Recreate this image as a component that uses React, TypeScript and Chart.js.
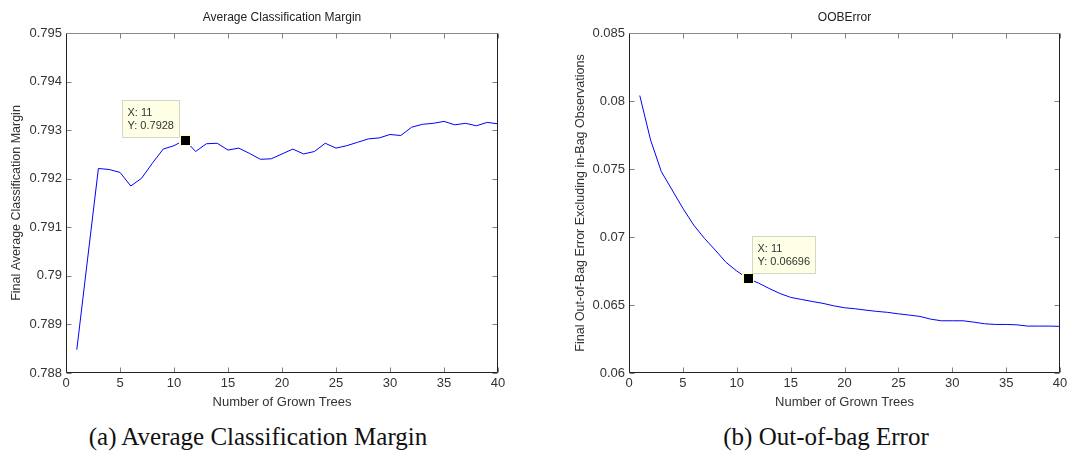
import React, { useEffect, useRef } from "react";
import { Chart, registerables } from "chart.js";

Chart.register(...registerables);

// ---- data ----
const trees = [1, 2, 3, 4, 5, 6, 7, 8, 9, 10, 11, 12, 13, 14, 15, 16, 17, 18, 19, 20,
  21, 22, 23, 24, 25, 26, 27, 28, 29, 30, 31, 32, 33, 34, 35, 36, 37, 38, 39, 40];

const marginValues = [0.78848, 0.79035, 0.79221, 0.79219, 0.79213, 0.79185, 0.79201, 0.79232,
  0.79261, 0.79268, 0.7928, 0.79256, 0.79272, 0.79273, 0.79259, 0.79263, 0.79252, 0.7924,
  0.79241, 0.79251, 0.79261, 0.79251, 0.79256, 0.79273, 0.79263, 0.79268, 0.79275, 0.79282,
  0.79284, 0.79291, 0.79289, 0.79306, 0.79312, 0.79314, 0.79318, 0.79311, 0.79314, 0.79309,
  0.79316, 0.79313];

const oobValues = [0.0804, 0.07714, 0.07481, 0.07346, 0.07211, 0.07088, 0.0699, 0.06904,
  0.06814, 0.0675, 0.06696, 0.06662, 0.06622, 0.06585, 0.06556, 0.06541, 0.06526, 0.06512,
  0.06494, 0.0648, 0.06472, 0.06462, 0.06453, 0.06446, 0.06435, 0.06426, 0.06416, 0.06396,
  0.06384, 0.06384, 0.06384, 0.06374, 0.06362, 0.06357, 0.06357, 0.06354, 0.06345, 0.06345,
  0.06345, 0.06343];

const xTicks = [0, 5, 10, 15, 20, 25, 30, 35, 40];
const marginTicks = [0.788, 0.789, 0.79, 0.791, 0.792, 0.793, 0.794, 0.795];
const oobTicks = [0.06, 0.065, 0.07, 0.075, 0.08, 0.085];

const tipIndex = 10; // tree 11

const FONT = "'Liberation Sans', Arial, Helvetica, sans-serif";
const TEXT = "#333333";

type PanelCfg = {
  title: string;
  yTitle: string;
  values: number[];
  yTicks: number[];
  tipDigits: string;
  tipDx: number;
  tipDy: number;
  yAxisWidth: number;
  yTitlePad: number;
  padRight: number;
};

const fmt = (v: number) => String(parseFloat(v.toFixed(4)));

const matlabPlugin = {
  id: "matlabBox",
  afterDatasetsDraw(chart: any, _args: any, opts: any) {
    const { ctx, chartArea: a, scales } = chart;
    const xs = scales.x;
    const ys = scales.y;
    ctx.save();
    // inward ticks
    ctx.strokeStyle = "#7f7f7f";
    ctx.lineWidth = 1;
    const L = Math.round(a.left) + 0.5;
    const R = Math.round(a.right) - 0.5;
    const T = Math.round(a.top) + 0.5;
    const B = Math.round(a.bottom) - 0.5;
    ctx.beginPath();
    for (const v of xTicks) {
      const px = Math.round(xs.getPixelForValue(v)) + 0.5;
      ctx.moveTo(px, B);
      ctx.lineTo(px, B - 5);
      ctx.moveTo(px, T);
      ctx.lineTo(px, T + 5);
    }
    for (const v of opts.yTicks) {
      const py = Math.round(ys.getPixelForValue(v)) + 0.5;
      ctx.moveTo(L, py);
      ctx.lineTo(L + 5, py);
      ctx.moveTo(R, py);
      ctx.lineTo(R - 5, py);
    }
    ctx.stroke();
    // box
    ctx.strokeStyle = "#222222";
    ctx.beginPath();
    ctx.moveTo(L, T);
    ctx.lineTo(L, B);
    ctx.lineTo(R, B);
    ctx.lineTo(R, T);
    ctx.stroke();
    ctx.strokeStyle = "#8a8a8a";
    ctx.beginPath();
    ctx.moveTo(L, T);
    ctx.lineTo(R, T);
    ctx.stroke();

    // title
    ctx.fillStyle = "#222222";
    ctx.font = `12px ${FONT}`;
    ctx.textAlign = "center";
    ctx.textBaseline = "middle";
    ctx.fillText(opts.title, (a.left + a.right) / 2, 18);

    // data tip marker
    const mx = xs.getPixelForValue(trees[tipIndex]);
    const my = ys.getPixelForValue(opts.values[tipIndex]);
    ctx.fillStyle = "#ffffd0";
    ctx.fillRect(Math.round(mx) - 6, Math.round(my) - 6, 12, 12);
    ctx.fillStyle = "#000000";
    ctx.fillRect(Math.round(mx) - 4, Math.round(my) - 4, 9, 9);

    // data tip box
    ctx.font = `11px ${FONT}`;
    const l1 = "X: " + trees[tipIndex];
    const l2 = "Y: " + opts.tipDigits;
    const w = Math.ceil(Math.max(ctx.measureText(l1).width, ctx.measureText(l2).width)) + 10;
    const bx = Math.round(mx + opts.tipDx) + 0.5;
    const by = Math.round(my + opts.tipDy) + 0.5;
    const bh = 37;
    ctx.fillStyle = "#ffffe6";
    ctx.fillRect(bx, by, w, bh);
    ctx.strokeStyle = "#d6d6c8";
    ctx.strokeRect(bx, by, w, bh);
    ctx.fillStyle = TEXT;
    ctx.textAlign = "left";
    ctx.textBaseline = "middle";
    ctx.fillText(l1, bx + 5, by + 12);
    ctx.fillText(l2, bx + 5, by + 25);
    ctx.restore();
  },
};

function Panel({ cfg, left, width }: { cfg: PanelCfg; left: number; width: number }) {
  const ref = useRef<HTMLCanvasElement | null>(null);
  useEffect(() => {
    if (!ref.current) return;
    const chart = new Chart(ref.current, {
      type: "line",
      data: {
        datasets: [
          {
            data: trees.map((t, i) => ({ x: t, y: cfg.values[i] })),
            borderColor: "#0000ff",
            borderWidth: 1,
            pointRadius: 0,
            tension: 0,
            fill: false,
          },
        ],
      },
      plugins: [matlabPlugin],
      options: {
        animation: false,
        responsive: false,
        devicePixelRatio: 1,
        events: [],
        layout: { padding: { left: 0, top: 33, right: cfg.padRight, bottom: 0 } },
        plugins: {
          legend: { display: false },
          tooltip: { enabled: false },
          title: { display: false },
          matlabBox: {
            title: cfg.title,
            yTicks: cfg.yTicks,
            values: cfg.values,
            tipDigits: cfg.tipDigits,
            tipDx: cfg.tipDx,
            tipDy: cfg.tipDy,
          },
        } as any,
        scales: {
          x: {
            type: "linear",
            min: 0,
            max: 40,
            afterBuildTicks: (s: any) => {
              s.ticks = xTicks.map((v) => ({ value: v }));
            },
            afterFit: (s: any) => {
              s.height = 47;
            },
            grid: { display: false, drawTicks: false },
            border: { display: false },
            ticks: {
              padding: 3,
              color: TEXT,
              font: { family: FONT, size: 13 },
              maxRotation: 0,
              callback: (v: any) => fmt(Number(v)),
            },
            title: {
              display: true,
              text: "Number of Grown Trees",
              color: TEXT,
              font: { family: FONT, size: 13 },
              padding: { top: 0, bottom: 10 },
            },
          },
          y: {
            type: "linear",
            min: cfg.yTicks[0],
            max: cfg.yTicks[cfg.yTicks.length - 1],
            afterBuildTicks: (s: any) => {
              s.ticks = cfg.yTicks.map((v) => ({ value: v }));
            },
            afterFit: (s: any) => {
              s.width = cfg.yAxisWidth;
            },
            grid: { display: false, drawTicks: false },
            border: { display: false },
            ticks: {
              padding: 4,
              color: TEXT,
              font: { family: FONT, size: 13 },
              callback: (v: any) => fmt(Number(v)),
            },
            title: {
              display: true,
              text: cfg.yTitle,
              color: TEXT,
              font: { family: FONT, size: 12.5 },
              padding: { top: cfg.yTitlePad, bottom: 0 },
            },
          },
        },
      } as any,
    });
    return () => chart.destroy();
  }, [cfg]);
  return (
    <canvas
      ref={ref}
      width={width}
      height={420}
      style={{ position: "absolute", left, top: 0, width, height: 420 }}
    />
  );
}

const leftCfg: PanelCfg = {
  title: "Average Classification Margin",
  yTitle: "Final Average Classification Margin",
  values: marginValues,
  yTicks: marginTicks,
  tipDigits: "0.7928",
  tipDx: -63,
  tipDy: -40,
  yAxisWidth: 66,
  yTitlePad: 9,
  padRight: 37,
};

const rightCfg: PanelCfg = {
  title: "OOBError",
  yTitle: "Final Out-of-Bag Error Excluding in-Bag Observations",
  values: oobValues,
  yTicks: oobTicks,
  tipDigits: "0.06696",
  tipDx: 4,
  tipDy: -42,
  yAxisWidth: 94,
  yTitlePad: 38,
  padRight: 11,
};

const captionStyle: React.CSSProperties = {
  position: "absolute",
  top: 420,
  height: 34,
  lineHeight: "34px",
  fontFamily: "'Liberation Serif', 'Times New Roman', serif",
  fontSize: 25,
  color: "#111",
  textAlign: "center",
  whiteSpace: "nowrap",
};

export default function App() {
  return (
    <div
      style={{
        position: "fixed",
        left: 0,
        top: 0,
        width: 1071,
        height: 464,
        background: "#ffffff",
        overflow: "hidden",
      }}
    >
      <Panel cfg={leftCfg} left={0} width={535} />
      <Panel cfg={rightCfg} left={535} width={536} />
      <div style={{ ...captionStyle, left: 58, width: 400 }}>(a) Average Classification Margin</div>
      <div style={{ ...captionStyle, left: 626, width: 400 }}>(b) Out-of-bag Error</div>
    </div>
  );
}
